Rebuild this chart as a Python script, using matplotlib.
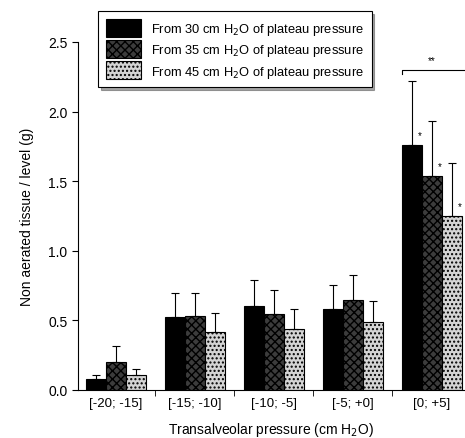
import matplotlib.pyplot as plt
import numpy as np

plt.rcParams['font.family'] = ['Liberation Sans', 'DejaVu Sans']

# data
groups = ['[-20; -15]', '[-15; -10]', '[-10; -5]', '[-5; +0]', '[0; +5]']
series = ['From 30 cm H$_2$O of plateau pressure',
          'From 35 cm H$_2$O of plateau pressure',
          'From 45 cm H$_2$O of plateau pressure']
p30 = [0.08, 0.525, 0.60, 0.58, 1.76]
p35 = [0.20, 0.535, 0.545, 0.648, 1.535]
p45 = [0.105, 0.415, 0.435, 0.487, 1.25]
err30 = [0.03, 0.175, 0.19, 0.175, 0.46]
err35 = [0.115, 0.165, 0.175, 0.178, 0.40]
err45 = [0.045, 0.135, 0.15, 0.153, 0.38]

fig = plt.figure(figsize=(4.65, 4.39), dpi=100)
ax = fig.add_axes([78/465, 48/439, 1 - 78/465, 348/439])

x = np.arange(len(groups))
w = 0.255
faces = ['black', '#3c3c3c', '#d4d4d4']
hatches = [None, 'xxxx', '....']
vals = [p30, p35, p45]
errs = [err30, err35, err45]
for i in range(3):
    pos = x + (i - 1) * w
    ax.bar(pos, vals[i], w, color=faces[i], edgecolor='black', linewidth=0.8,
           hatch=hatches[i], label=series[i])
    ax.errorbar(pos, vals[i], yerr=[np.zeros(5), errs[i]], fmt='none',
                ecolor='black', elinewidth=0.8, capsize=3, capthick=0.8)
    # significance stars on last group
    ax.text(pos[-1] + 0.1, vals[i][-1] + 0.05, '*', fontsize=7, ha='center')

# bracket over last group
ax.plot([3.62, 3.62, 4.5], [2.27, 2.30, 2.30], color='black', lw=0.8, clip_on=False)
ax.text(4.0, 2.35, '**', fontsize=7, ha='center')

ax.set_xlim(-0.48, 4.42)
ax.set_ylim(0, 2.5)
ax.set_yticks([0, 0.5, 1.0, 1.5, 2.0, 2.5])
ax.set_yticklabels(['0.0', '0.5', '1.0', '1.5', '2.0', '2.5'], fontsize=10)
ax.set_xticks(x)
ax.set_xticklabels(groups, fontsize=9.5)
ax.tick_params(axis='x', length=0, pad=5)
ax.set_xticks(x[:-1] + 0.5, minor=True)
ax.tick_params(axis='x', which='minor', length=4, direction='out')
ax.tick_params(axis='y', length=4, direction='out')
for s in ['top', 'right']:
    ax.spines[s].set_visible(False)
ax.set_xlabel('Transalveolar pressure (cm H$_2$O)', fontsize=10, labelpad=8)
ax.set_ylabel('Non aerated tissue / level (g)', fontsize=10, labelpad=10)

leg = ax.legend(loc='upper left', bbox_to_anchor=(98/465, 1 - 12/439),
                bbox_transform=fig.transFigure, fontsize=9.3, frameon=True,
                fancybox=False, shadow=True, edgecolor='black', borderaxespad=0,
                handlelength=2.7, handleheight=1.75, borderpad=0.6,
                labelspacing=0.25, handletextpad=0.8)
leg.get_frame().set_linewidth(0.8)

fig.savefig('out.png', dpi=100)
